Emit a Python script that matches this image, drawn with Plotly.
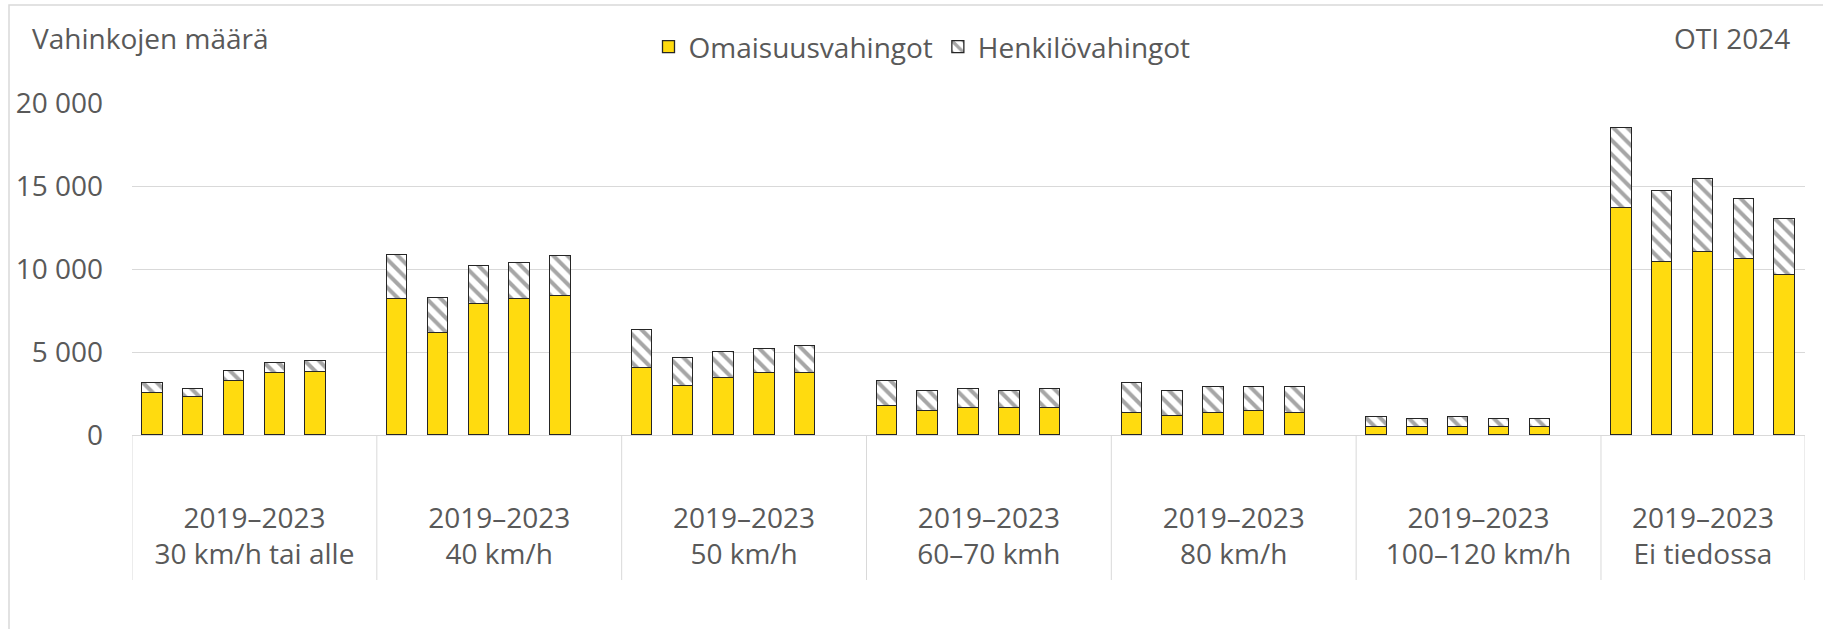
import plotly.graph_objects as go

# ---- data ----
groups = ["30 km/h tai alle", "40 km/h", "50 km/h", "60–70 kmh", "80 km/h", "100–120 km/h", "Ei tiedossa"]
period = "2019–2023"
years = [2019, 2020, 2021, 2022, 2023]

omaisuus = [
    [2560, 2300, 3270, 3730, 3820],
    [8180, 6150, 7900, 8180, 8380],
    [4030, 2960, 3460, 3730, 3730],
    [1720, 1420, 1620, 1620, 1620],
    [1320, 1120, 1320, 1420, 1320],
    [480, 480, 480, 480, 480],
    [13650, 10440, 11040, 10580, 9620],
]
henkilo = [
    [600, 470, 600, 600, 610],
    [2660, 2110, 2280, 2200, 2380],
    [2300, 1650, 1550, 1460, 1640],
    [1550, 1260, 1160, 1060, 1160],
    [1840, 1560, 1570, 1470, 1570],
    [580, 480, 580, 480, 480],
    [4850, 4270, 4370, 3650, 3370],
]
y_ticks = [0, 5000, 10000, 15000, 20000]

# ---- category positions: each group has 5 years + one blank slot (last group without blank) ----
slot = 6
xs, o_vals, h_vals, hover = [], [], [], []
for g, name in enumerate(groups):
    for j, yr in enumerate(years):
        xs.append(g * slot + j)
        o_vals.append(omaisuus[g][j])
        h_vals.append(henkilo[g][j])
        hover.append(f"{name} {yr}")
n_cats = slot * (len(groups) - 1) + len(years)
x_min, x_max = -0.5, n_cats - 0.5
group_centers = [g * slot + 2.5 for g in range(len(groups) - 1)]
group_centers.append(((len(groups) - 1) * slot - 0.5 + x_max) / 2)
separators = [g * slot - 0.5 for g in range(len(groups))] + [x_max]

GRAY_TXT = "#595959"
GRID = "#d9d9d9"
FONT = "Open Sans"
FS = 28

fig = go.Figure()
fig.add_trace(go.Bar(
    x=xs, y=o_vals, name="Omaisuusvahingot", width=0.5, hovertext=hover,
    marker=dict(color="#FFDB0F", line=dict(color="#262626", width=1.3)),
))
fig.add_trace(go.Bar(
    x=xs, y=h_vals, name="Henkilövahingot", width=0.5, hovertext=hover,
    marker=dict(color="white", line=dict(color="#262626", width=1.3),
                pattern=dict(shape="\\", fgcolor="#a6a6a6", bgcolor="white",
                             size=10, solidity=0.4, fillmode="replace")),
))

W, H = 1823, 629
L, R, T, B = 132, 18, 103, 194
pw, ph = W - L - R, H - T - B

def px_x(p):
    return (p - L) / pw

def px_y(p):
    return (H - B - p) / ph

shapes = []
for s in separators:
    shapes.append(dict(type="line", xref="x", yref="paper", x0=s, x1=s,
                       y0=0, y1=px_y(580), line=dict(color=GRID, width=1)))
shapes.append(dict(type="rect", xref="paper", yref="paper",
                   x0=px_x(9), x1=px_x(1840), y0=px_y(640), y1=px_y(5),
                   line=dict(color=GRID, width=1.5), fillcolor="rgba(0,0,0,0)", layer="below"))

fig.update_layout(
    width=W, height=H,
    margin=dict(l=L, r=R, t=T, b=B, autoexpand=False),
    barmode="stack",
    bargap=0,
    plot_bgcolor="white", paper_bgcolor="white",
    separators=", ",
    font=dict(family=FONT, size=FS, color=GRAY_TXT),
    showlegend=True,
    legend=dict(orientation="h", x=px_x(922), xanchor="center", y=px_y(47), yanchor="middle",
                font=dict(size=FS, color=GRAY_TXT), traceorder="normal",
                itemwidth=30, bgcolor="rgba(0,0,0,0)"),
    shapes=shapes,
    annotations=[
        dict(text="Vahinkojen määrä", xref="paper", yref="paper", x=px_x(30), y=px_y(38),
             xanchor="left", yanchor="middle", showarrow=False,
             font=dict(size=FS, color=GRAY_TXT)),
        dict(text="OTI 2024", xref="paper", yref="paper", x=px_x(1792), y=px_y(38),
             xanchor="right", yanchor="middle", showarrow=False,
             font=dict(size=FS, color=GRAY_TXT)),
    ],
    xaxis=dict(range=[x_min, x_max], tickmode="array", tickvals=group_centers,
               ticktext=[f"{period}<br>{g}" for g in groups],
               showgrid=False, zeroline=False, showline=True, linecolor=GRID, linewidth=1,
               ticks="", ticklabelstandoff=58, tickfont=dict(size=FS, color=GRAY_TXT)),
    yaxis=dict(range=[0, 20000], tickmode="array", tickvals=y_ticks, tickformat=",d",
               showgrid=True, gridcolor=GRID, gridwidth=1, zeroline=False, showline=False,
               ticks="", ticklabelstandoff=28, tickfont=dict(size=FS, color=GRAY_TXT)),
)

fig.write_html("out.html", config={"displayModeBar": False},
               post_script="document.body.style.margin='0';")
